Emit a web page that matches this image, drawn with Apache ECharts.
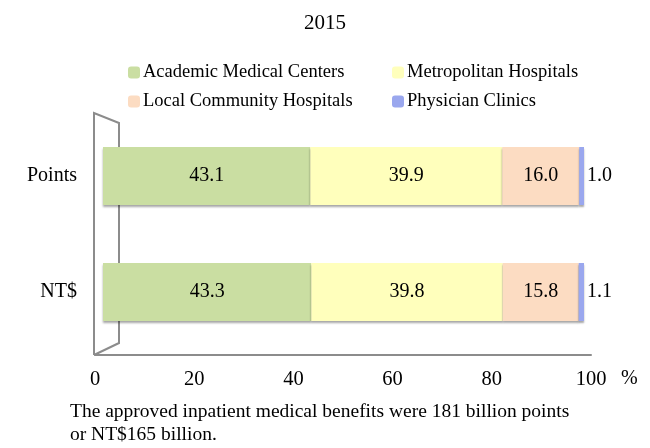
<!DOCTYPE html>
<html>
<head>
<meta charset="utf-8">
<script src="https://cdn.jsdelivr.net/npm/echarts@6/dist/echarts.min.js"></script>
<style>
  html, body { margin: 0; padding: 0; background: #fff; }
  #chart { width: 650px; height: 448px; }
</style>
</head>
<body>
<div id="chart"></div>
<script>
// Share of approved inpatient benefits by hospital level, 2015
const categories = ['Points', 'NT$'];
const seriesNames = ['Academic Medical Centers', 'Metropolitan Hospitals', 'Local Community Hospitals', 'Physician Clinics'];
const academic = [43.1, 43.3];
const metropolitan = [39.9, 39.8];
const localCommunity = [16.0, 15.8];
const clinics = [1.0, 1.1];
const xTicks = [0, 20, 40, 60, 80, 100];

const FONT = '"Liberation Serif", "Times New Roman", serif';
const colors = ['#cadea2', '#ffffbc', '#fcdcc2', '#9aa7ee'];
const values = [academic, metropolitan, localCommunity, clinics];

const chart = echarts.init(document.getElementById('chart'));

const series = seriesNames.map((name, i) => ({
  name: name,
  type: 'bar',
  stack: 'share',
  xAxisIndex: 0,
  yAxisIndex: 0,
  barWidth: '50%',
  data: values[i],
  itemStyle: {
    color: colors[i],
    shadowColor: 'rgba(0,0,0,0.35)',
    shadowBlur: 2,
    shadowOffsetY: 2
  },
  label: {
    show: true,
    position: i === 3 ? 'right' : 'inside',
    distance: 3,
    color: '#000',
    fontFamily: FONT,
    fontSize: 20,
    formatter: p => p.value.toFixed(1)
  }
}));

const legendCommon = {
  orient: 'vertical', top: 63, itemGap: 10, padding: 0,
  itemWidth: 12, itemHeight: 12,
  itemStyle: { borderWidth: 0, shadowBlur: 0, shadowOffsetY: 0 },
  textStyle: { fontFamily: FONT, fontSize: 18.5, color: '#000', padding: [0, 0, 0, -2] }
};

chart.setOption({
  animation: false,
  backgroundColor: '#fff',
  title: {
    text: '2015',
    left: 'center',
    top: 8,
    textStyle: { fontFamily: FONT, fontSize: 21, fontWeight: 'normal', color: '#000' }
  },
  legend: [
    Object.assign({ data: [seriesNames[0], seriesNames[2]], left: 128 }, legendCommon),
    Object.assign({ data: [seriesNames[1], seriesNames[3]], left: 392 }, legendCommon)
  ],
  grid: [
    // bars
    { left: 103, right: 66, top: 118, bottom: 98 },
    // floor scale
    { left: 95, right: 59, top: 113, bottom: 93 }
  ],
  xAxis: [
    { gridIndex: 0, type: 'value', min: 0, max: 100, show: false },
    {
      gridIndex: 1, type: 'value', min: xTicks[0], max: xTicks[xTicks.length - 1],
      interval: xTicks[1] - xTicks[0],
      name: '%', nameLocation: 'end', nameGap: 30,
      nameTextStyle: { fontFamily: FONT, fontSize: 20, color: '#000', verticalAlign: 'top', padding: [14, 0, 0, 0] },
      axisLine: { show: true, lineStyle: { color: '#8c8c8c', width: 2 } },
      axisTick: { show: false },
      splitLine: { show: false },
      axisLabel: { fontFamily: FONT, fontSize: 20.5, color: '#000', margin: 14 }
    }
  ],
  yAxis: [
    {
      gridIndex: 0, type: 'category', data: categories, inverse: true,
      axisLine: { show: false }, axisTick: { show: false },
      axisLabel: { fontFamily: FONT, fontSize: 20, color: '#000', margin: 26 }
    },
    { gridIndex: 1, type: 'value', min: 0, max: 1, show: false }
  ],
  series: series
});

// Side wall of the 3D frame, placed from the floor scale's corners
const bottomLeft = chart.convertToPixel({ xAxisIndex: 1, yAxisIndex: 1 }, [0, 0]);
const topLeft = chart.convertToPixel({ xAxisIndex: 1, yAxisIndex: 1 }, [0, 1]);
const depthX = 25;
const x0 = bottomLeft[0] - 1;
chart.setOption({
  graphic: [
    {
      type: 'polyline',
      z: 0,
      shape: {
        points: [
          [x0, bottomLeft[1]],
          [x0, topLeft[1]],
          [x0 + depthX, topLeft[1] + 10],
          [x0 + depthX, bottomLeft[1] - 12],
          [x0, bottomLeft[1]]
        ]
      },
      style: { stroke: '#8c8c8c', lineWidth: 2, fill: null }
    },
    {
      type: 'text',
      left: 70,
      top: 400,
      style: {
        text: 'The approved inpatient medical benefits were 181 billion points\nor NT$165 billion.',
        fontFamily: FONT,
        fontSize: 19.5,
        lineHeight: 23,
        fill: '#000'
      }
    }
  ]
});
</script>
</body>
</html>
